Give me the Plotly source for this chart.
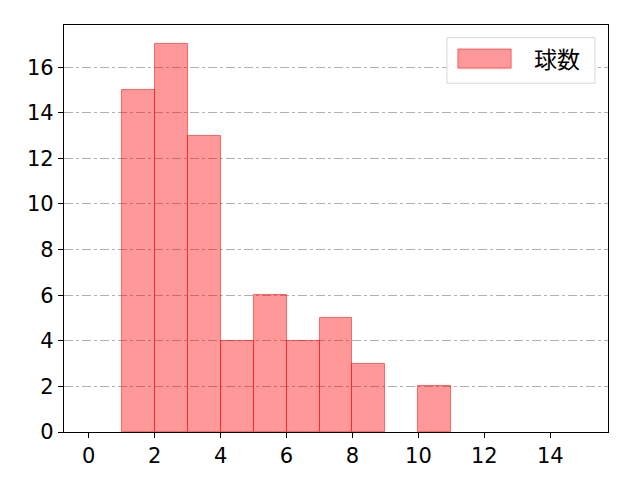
import plotly.graph_objects as go

# histogram of pitch counts, bins of width 1 from 0 to 15
bin_left = list(range(0, 15))
counts = [0, 15, 17, 13, 4, 6, 4, 5, 3, 0, 2, 0, 0, 0, 0]
series_name = "球数"
x_ticks = [0, 2, 4, 6, 8, 10, 12, 14]
y_ticks = [0, 2, 4, 6, 8, 10, 12, 14, 16]

FONT = "Noto Sans CJK JP"
TICK_FONT = "DejaVu Sans"

fig = go.Figure()
fig.add_trace(go.Bar(
    x=[b + 0.5 for b in bin_left],
    y=counts,
    width=1,
    name=series_name,
    showlegend=False,
    marker=dict(color="rgba(255,0,0,0.4)",
                line=dict(color="rgba(255,0,0,0.5)",
                          width=[1 if c else 0 for c in counts])),
))

axis_common = dict(
    showline=True, linecolor="black", linewidth=1.2, mirror=True,
    ticks="outside", ticklen=5, tickcolor="black",
    tickfont=dict(family=TICK_FONT, size=21, color="black"),
    zeroline=False,
)
fig.update_xaxes(range=[-0.75, 15.75], tickvals=x_ticks, showgrid=False, **axis_common)
fig.update_yaxes(range=[0, 17.85], tickvals=y_ticks, showgrid=True,
                 gridcolor="#b0b0b0", griddash="dashdot", gridwidth=1, **axis_common)

# legend drawn by hand so the patch matches the wide matplotlib style
fig.add_shape(type="rect", xref="paper", yref="paper",
              x0=0.704, x1=0.976, y0=0.857, y1=0.969,
              line=dict(color="#d6d6d6", width=1), fillcolor="white")
fig.add_shape(type="rect", xref="paper", yref="paper",
              x0=0.724, x1=0.822, y0=0.894, y1=0.941,
              line=dict(color="rgba(255,0,0,0.5)", width=1),
              fillcolor="rgba(255,0,0,0.4)")
fig.add_annotation(text=series_name, xref="paper", yref="paper",
                   x=0.860, y=0.918, xanchor="left", yanchor="middle",
                   showarrow=False,
                   font=dict(family=FONT, size=23, color="black"))

fig.update_layout(
    width=640, height=480,
    margin=dict(l=64, r=32, t=25, b=48),
    paper_bgcolor="white", plot_bgcolor="white",
    bargap=0,
)

fig.write_html("out.html", config={"displayModeBar": False},
               post_script="document.body.style.margin='0';")
